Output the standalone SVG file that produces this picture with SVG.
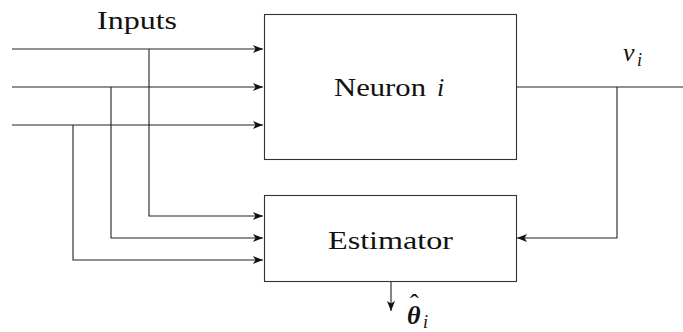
<svg xmlns="http://www.w3.org/2000/svg" width="683" height="332" viewBox="0 0 683 332">
<style>
.box{fill:#fff;stroke:#333;stroke-width:1.1}
.ln{fill:none;stroke:#222;stroke-width:1.1}
.t{font-size:26px}
.s{font-size:18px}
.it{font-style:italic}
.b{font-weight:bold}
</style>
<defs>
<marker id="ah" viewBox="0 0 10 8" refX="10" refY="4" markerWidth="10" markerHeight="8" markerUnits="userSpaceOnUse" orient="auto">
<path d="M0,0 L10,4 L0,8 L2.5,4 Z" fill="#111"/>
</marker>
</defs>
<g id="connectors">
<line class="ln" x1="12" y1="49" x2="263" y2="49" marker-end="url(#ah)"/>
<line class="ln" x1="12" y1="87" x2="263" y2="87" marker-end="url(#ah)"/>
<line class="ln" x1="12" y1="125" x2="263" y2="125" marker-end="url(#ah)"/>
<polyline class="ln" points="149,49 149,216 263,216" marker-end="url(#ah)"/>
<polyline class="ln" points="111,87 111,238 263,238" marker-end="url(#ah)"/>
<polyline class="ln" points="73,125 73,260 263,260" marker-end="url(#ah)"/>
<line class="ln" x1="516" y1="87" x2="683" y2="87"/>
<polyline class="ln" points="617,87 617,238 517,238" marker-end="url(#ah)"/>
<line class="ln" x1="391" y1="282" x2="391" y2="311" marker-end="url(#ah)"/>
</g>
<g font-family="Liberation Serif, Times New Roman, serif" fill="#111">
<g id="neuron">
<rect class="box" x="264.5" y="14.5" width="252" height="145"/>
<text class="t" x="334" y="96" textLength="92" lengthAdjust="spacingAndGlyphs">Neuron</text>
<text class="t it" x="437" y="96">i</text>
</g>
<g id="estimator">
<rect class="box" x="264.5" y="195.5" width="252" height="86"/>
<text class="t" x="328" y="249" textLength="125" lengthAdjust="spacingAndGlyphs">Estimator</text>
</g>
<g id="inputs-label">
<text class="t" x="97" y="29" textLength="80" lengthAdjust="spacingAndGlyphs">Inputs</text>
</g>
<g id="output-label">
<text class="t it" x="623" y="61">v</text>
<text class="s it" x="637" y="66">i</text>
</g>
<g id="theta-label">
<text class="t" x="407" y="324"><tspan class="it b">θ</tspan><tspan x="410" y="312">ˆ</tspan><tspan class="s it" x="423" y="328">i</tspan></text>
</g>
</g>
</svg>
